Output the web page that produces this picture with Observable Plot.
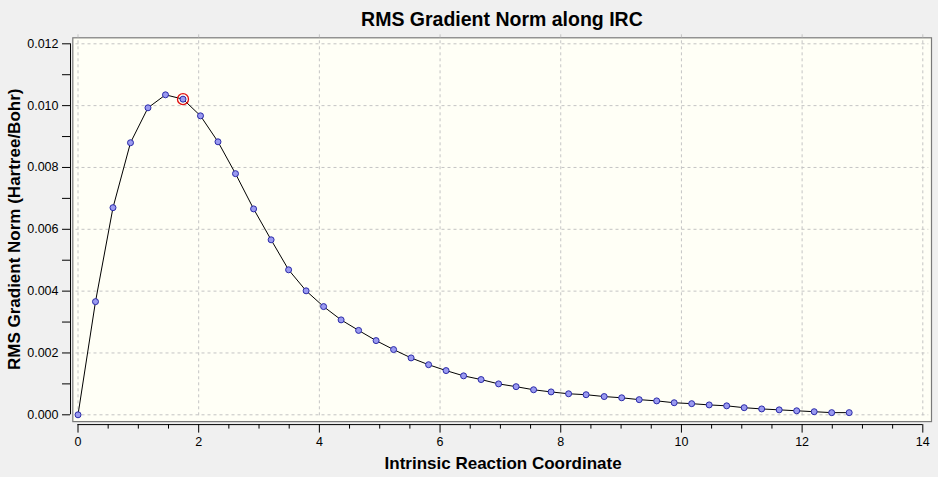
<!DOCTYPE html>
<html>
<head>
<meta charset="utf-8">
<script src="https://cdn.jsdelivr.net/npm/d3@7"></script>
<script src="https://cdn.jsdelivr.net/npm/@observablehq/plot@0.6"></script>
<style>
  html, body { margin: 0; padding: 0; background: #f0f0f0; }
  #chart svg { display: block; }
</style>
</head>
<body>
<div id="chart"></div>
<script>
const titleText = "RMS Gradient Norm along IRC";
const xLabel = "Intrinsic Reaction Coordinate";
const yLabel = "RMS Gradient Norm (Hartree/Bohr)";

const irc = [0, 0.29, 0.58, 0.87, 1.16, 1.45, 1.74, 2.03, 2.32, 2.61, 2.91, 3.20, 3.49, 3.78, 4.07,
  4.36, 4.65, 4.94, 5.23, 5.52, 5.81, 6.10, 6.39, 6.68, 6.97, 7.26, 7.55, 7.84, 8.13, 8.42,
  8.72, 9.01, 9.30, 9.59, 9.88, 10.17, 10.46, 10.75, 11.04, 11.33, 11.62, 11.91, 12.20, 12.49, 12.78];
const rmsGrad = [0, 0.00366, 0.00670, 0.00880, 0.00993, 0.01035, 0.01021, 0.00967, 0.00883, 0.00780,
  0.00666, 0.00566, 0.00469, 0.00401, 0.00350, 0.00307, 0.00273, 0.00240, 0.00211, 0.00184,
  0.00162, 0.00143, 0.00126, 0.00114, 0.00100, 0.00091, 0.00081, 0.00074, 0.00068, 0.00065,
  0.00059, 0.00055, 0.00049, 0.00045, 0.00039, 0.00036, 0.00032, 0.00029, 0.00023, 0.00019,
  0.00016, 0.00013, 0.00010, 0.00007, 0.00007];
const highlightIndex = 6;

const xMajor = [0, 2, 4, 6, 8, 10, 12, 14];
const xMinor = [0.5, 1, 1.5, 2.5, 3, 3.5, 4.5, 5, 5.5, 6.5, 7, 7.5, 8.5, 9, 9.5, 10.5, 11, 11.5, 12.5, 13, 13.5];
const yMajor = [0, 0.002, 0.004, 0.006, 0.008, 0.010, 0.012];
const yMinor = [0.001, 0.003, 0.005, 0.007, 0.009, 0.011];
const xDomain = [0, 14];
const yDomain = [0, 0.012];

const data = irc.map((x, i) => ({x, y: rmsGrad[i]}));
const highlighted = [data[highlightIndex]];

const font = "'Liberation Sans', Arial, sans-serif";

const chart = Plot.plot({
  width: 938,
  height: 477,
  marginLeft: 77.5,
  marginRight: 15.7,
  marginTop: 43.3,
  marginBottom: 62.7,
  style: {background: "transparent", fontFamily: font, fontSize: "12px", color: "#000"},
  x: {domain: xDomain},
  y: {domain: yDomain},
  marks: [
    Plot.frame({fill: "#fffff6", stroke: "#7a7a7a", strokeWidth: 1.2,
      insetLeft: -5.2, insetRight: -8.7, insetTop: -6, insetBottom: -6.8}),
    Plot.gridX(xMajor, {stroke: "#c4c4c4", strokeOpacity: 1, strokeDasharray: "3,3",
      insetTop: -9, insetBottom: -4}),
    Plot.gridY(yMajor, {stroke: "#c4c4c4", strokeOpacity: 1, strokeDasharray: "3,3",
      insetLeft: -2, insetRight: -6}),
    // y axis
    Plot.ruleX([xDomain[0]], {y1: yDomain[0], y2: yDomain[1], dx: -7.5, stroke: "#000"}),
    Plot.axisY({ticks: yMajor, tickSize: 8, tickPadding: 4, dx: -7.5,
      tickFormat: d3.format(".3f"), label: null, fontSize: 12.5}),
    Plot.axisY({ticks: yMinor, tickSize: 8, dx: -7.5, tickFormat: null, text: null, label: null}),
    // x axis
    Plot.ruleY([yDomain[0]], {x1: xDomain[0], x2: xDomain[1], dy: 9.8, stroke: "#000"}),
    Plot.axisX({ticks: xMajor, tickSize: 8.5, tickPadding: 4, dy: 9.8,
      tickFormat: d3.format("d"), label: null, fontSize: 12.5}),
    Plot.axisX({ticks: xMinor, tickSize: 4.5, dy: 9.8, text: null, label: null}),
    // data
    Plot.line(data, {x: "x", y: "y", stroke: "#000", strokeWidth: 1}),
    Plot.dot(data, {x: "x", y: "y", r: 3, fill: "#9a9af0", stroke: "#2a2aa8", strokeWidth: 1}),
    Plot.dot(highlighted, {x: "x", y: "y", r: 5.5, fill: "none", stroke: "#e01010", strokeWidth: 1.3}),
    // labels
    Plot.text([titleText], {frameAnchor: "top", dy: -24.5, dx: 1.5, lineAnchor: "middle",
      fontSize: 19.5, fontWeight: "bold", fill: "#000"}),
    Plot.text([xLabel], {frameAnchor: "bottom", dy: 48.7, dx: 2.7, lineAnchor: "middle",
      fontSize: 17, fontWeight: "bold", fill: "#000"}),
    Plot.text([yLabel], {frameAnchor: "left", dx: -63, rotate: -90, textAnchor: "middle",
      lineAnchor: "middle", fontSize: 17, fontWeight: "bold", fill: "#000"})
  ]
});
document.getElementById("chart").append(chart);
</script>
</body>
</html>
